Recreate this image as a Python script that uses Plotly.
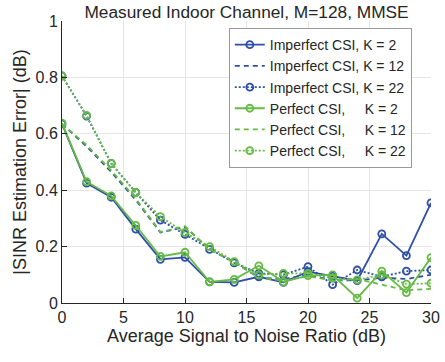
import plotly.graph_objects as go

snr = [0, 2, 4, 6, 8, 10, 12, 14, 16, 18, 20, 22, 24, 26, 28, 30]

imp_k2 = [0.635, 0.425, 0.375, 0.262, 0.155, 0.162, 0.075, 0.073, 0.093, 0.073, 0.111, 0.095, 0.079, 0.245, 0.168, 0.355]
imp_k12 = [0.635, 0.555, 0.465, 0.365, 0.25, 0.27, 0.19, 0.145, 0.09, 0.085, 0.1, 0.08, 0.08, 0.09, 0.085, 0.1]
imp_k22 = [0.805, 0.663, 0.495, 0.392, 0.294, 0.243, 0.19, 0.142, 0.105, 0.1, 0.129, 0.065, 0.117, 0.093, 0.113, 0.117]
per_k2 = [0.638, 0.43, 0.38, 0.275, 0.165, 0.18, 0.075, 0.084, 0.132, 0.075, 0.097, 0.1, 0.017, 0.113, 0.037, 0.161]
per_k12 = [0.635, 0.56, 0.47, 0.37, 0.252, 0.272, 0.19, 0.145, 0.09, 0.08, 0.095, 0.08, 0.085, 0.065, 0.045, 0.05]
per_k22 = [0.805, 0.665, 0.495, 0.392, 0.306, 0.25, 0.2, 0.147, 0.1, 0.105, 0.105, 0.088, 0.082, 0.1, 0.067, 0.07]

names = ["Imperfect CSI, K = 2", "Imperfect CSI, K = 12", "Imperfect CSI, K = 22",
         "Perfect CSI,\u00a0\u00a0\u00a0\u00a0\u00a0K = 2", "Perfect CSI,\u00a0\u00a0\u00a0\u00a0\u00a0K = 12",
         "Perfect CSI,\u00a0\u00a0\u00a0\u00a0\u00a0K = 22"]

BLUE = "#2E4FA8"
GREEN = "#66BB44"

series = [
    (imp_k2, BLUE, "solid", True),
    (imp_k12, BLUE, "5px,4px", False),
    (imp_k22, BLUE, "2px,2px", True),
    (per_k2, GREEN, "solid", True),
    (per_k12, GREEN, "5px,4px", False),
    (per_k22, GREEN, "2px,2px", True),
]

fig = go.Figure()
for (vals, col, dash, mk), nm in zip(series, names):
    fig.add_trace(go.Scatter(
        x=snr, y=vals, name=nm,
        mode="lines+markers" if mk else "lines",
        line=dict(color=col, width=1.8, dash=dash),
        marker=dict(symbol="circle-open", size=7, color=col, line=dict(width=1.8, color=col)),
    ))

fig.update_layout(
    width=445, height=362,
    margin=dict(l=62, r=14, t=21, b=59),
    paper_bgcolor="white", plot_bgcolor="white",
    font=dict(family="Liberation Sans, Arial, sans-serif", size=16, color="#262626"),
    title=dict(text="Measured Indoor Channel, M=128, MMSE", x=0.5, xanchor="center",
               xref="paper", yref="container", y=0.966, yanchor="middle",
               font=dict(size=17.3, color="#262626")),
    showlegend=True,
    legend=dict(x=0.452, y=0.975, xanchor="left", yanchor="top",
                bgcolor="white", bordercolor="#999999", borderwidth=1,
                font=dict(size=14, color="#262626"), tracegroupgap=0,
                itemwidth=30),
)
fig.update_xaxes(range=[0, 30], tickvals=[0, 5, 10, 15, 20, 25, 30],
                 showgrid=True, gridcolor="#E6E6E6", gridwidth=1,
                 showline=True, linecolor="#262626", linewidth=1,
                 ticks="inside", ticklen=5, tickcolor="#262626",
                 zeroline=False, automargin=False, tickfont=dict(size=16),
                 title=dict(text="Average Signal to Noise Ratio (dB)", font=dict(size=18), standoff=4))
fig.update_yaxes(range=[0, 1], tickvals=[0, 0.2, 0.4, 0.6, 0.8, 1],
                 ticktext=["0", "0.2", "0.4", "0.6", "0.8", "1"],
                 showgrid=True, gridcolor="#E6E6E6", gridwidth=1,
                 showline=True, linecolor="#262626", linewidth=1,
                 ticks="inside", ticklen=5, tickcolor="#262626",
                 zeroline=False, automargin=False, tickfont=dict(size=16),
                 title=dict(text="|SINR Estimation Error| (dB)", font=dict(size=18), standoff=4))

fig.write_html("out.html", config={"displayModeBar": False},
               post_script="document.body.style.margin='0';")
